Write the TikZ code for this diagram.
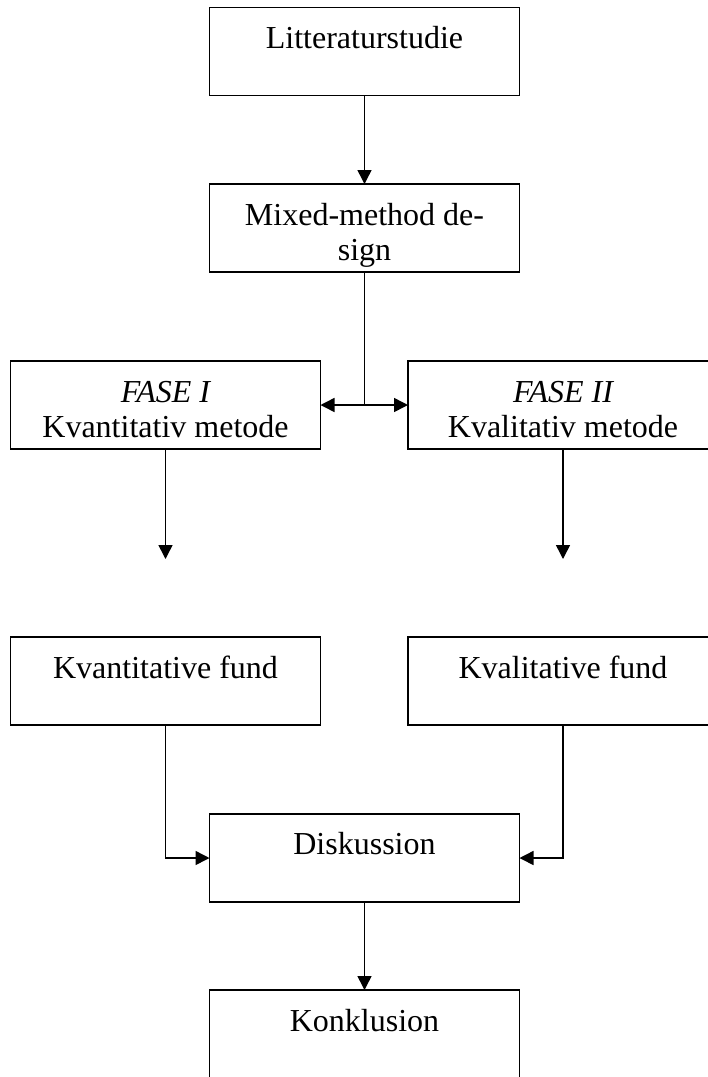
\documentclass[tikz,border=0pt]{standalone}
\usepackage{fontspec}
\setmainfont{Liberation Serif}
\usetikzlibrary{arrows.meta}
\tikzset{
  box/.style={draw, line width=1.6pt, rectangle, inner sep=0pt, outer sep=0pt,
    minimum width=310pt, minimum height=88pt},
  txt/.style={anchor=base, inner sep=0pt, font=\fontsize{32}{35.5}\selectfont},
  conn/.style={line width=1.5pt},
  arr/.style={conn, -{Triangle[length=14pt,width=14pt]}}
}
\begin{document}
\begin{tikzpicture}[x=1pt,y=-1pt]
\useasboundingbox (0,0) rectangle (708,1077);
\clip (0,0) rectangle (708,1077);
% boxes
\node[box] (lit) at (364.5,51.5) {};
\node[box] (mix) at (364.5,228) {};
\node[box] (f1) at (165.5,405) {};
\node[box] (f2) at (563,405) {};
\node[box] (k1) at (165.5,681) {};
\node[box] (k2) at (563,681) {};
\node[box] (disk) at (364.5,858) {};
\node[box] (konk) at (364.5,1034) {};
% texts
\node[txt] (litT) at (364.5,48) {Litteraturstudie};
\node[txt] (mixT1) at (364.5,225) {Mixed-method de-};
\node[txt] (mixT2) at (364.5,260) {sign};
\node[txt] (f1T1) at (165.5,402) {\itshape FASE I};
\node[txt] (f1T2) at (165.5,437) {Kvantitativ metode};
\node[txt] (f2T1) at (563,402) {\itshape FASE II};
\node[txt] (f2T2) at (563,437) {Kvalitativ metode};
\node[txt] (k1T) at (165.5,678) {Kvantitative fund};
\node[txt] (k2T) at (563,678) {Kvalitative fund};
\node[txt] (diskT) at (364.5,854) {Diskussion};
\node[txt] (konkT) at (364.5,1031) {Konklusion};
% coordinates
\coordinate (jn) at (364.5,405);
\coordinate (a1) at (165.5,559);
\coordinate (a2) at (563,559);
% connectors
\draw[arr] (lit.south) -- (mix.north);
\draw[conn] (mix.south) -- (jn);
\draw[arr] (jn) -- (f1.east);
\draw[arr] (jn) -- (f2.west);
\draw[arr] (f1.south) -- (a1);
\draw[arr] (f2.south) -- (a2);
\draw[arr] (k1.south) |- (disk.west);
\draw[arr] (k2.south) |- (disk.east);
\draw[arr] (disk.south) -- (konk.north);
\end{tikzpicture}
\end{document}
